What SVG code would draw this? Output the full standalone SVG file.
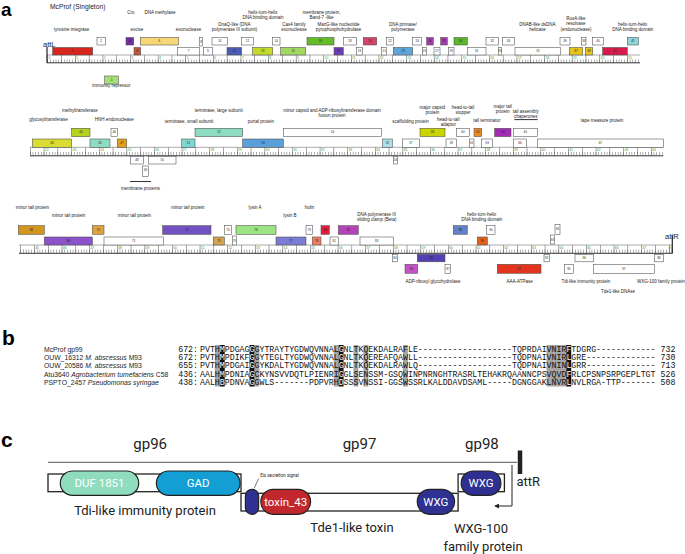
<svg xmlns="http://www.w3.org/2000/svg" width="685" height="554" viewBox="0 0 685 554">
<style>
text{font-family:"Liberation Sans",Arial,sans-serif;fill:#222}
.pl{font-weight:bold;font-size:21px;fill:#000}
.t{font-size:4.5px;text-anchor:middle}
.n{font-size:3px;text-anchor:middle;fill:#222}
.kb{font-size:3.4px;fill:#3a9a3a}
.b rect{stroke:#4d4d4d;stroke-width:0.55}
.w{fill:#fff}
.att{font-size:7.5px}
.seq{font-family:"Liberation Mono","Courier New",monospace;font-size:8.25px;fill:#111}
.k{fill:#fff}
.nm{font-size:6.8px}
.gc{font-family:Roboto,"Liberation Sans",sans-serif;fill:#222}
.pill{stroke:#222;stroke-width:1.2}
.pt{font-family:Roboto,"Liberation Sans",sans-serif;font-size:11.5px;fill:#fff;text-anchor:middle}
</style>
<defs>
<marker id="ah" viewBox="0 0 6 6" refX="5" refY="3" markerWidth="5" markerHeight="5" orient="auto"><path d="M0,0 L6,3 L0,6 Z" fill="#222"/></marker>
</defs>

<!-- panel labels -->
<text class="pl" x="1" y="16" style="font-size:19px">a</text>
<text class="pl" x="2" y="345">b</text>
<text class="pl" x="1" y="447">c</text>

<!-- ===== Panel a: rulers ===== -->
<g id="rulers" stroke="#555" fill="none">
<line x1="47" y1="55" x2="640" y2="55" stroke-width="0.5"/>
<line x1="47.5" y1="61" x2="640" y2="61" stroke-width="3.2" stroke-dasharray="0.45 2.31"/>
<line x1="47.5" y1="58.9" x2="640" y2="58.9" stroke-width="7.6" stroke-dasharray="0.5 13.3"/>
<line x1="47" y1="62.8" x2="640" y2="62.8" stroke-width="1" stroke="#333"/>
<line x1="47" y1="47" x2="47" y2="63" stroke-width="1.2" stroke="#222"/>

<line x1="30" y1="147.3" x2="663.3" y2="147.3" stroke-width="0.5"/>
<line x1="30" y1="153.6" x2="663.3" y2="153.6" stroke-width="3.4" stroke-dasharray="0.45 2.31"/>
<line x1="30" y1="151.5" x2="663.3" y2="151.5" stroke-width="8.4" stroke-dasharray="0.5 13.3"/>
<line x1="30" y1="155.8" x2="663.3" y2="155.8" stroke-width="1" stroke="#333"/>

<line x1="19" y1="245" x2="672.3" y2="245" stroke-width="0.5"/>
<line x1="20.38" y1="251.3" x2="672.3" y2="251.3" stroke-width="3.4" stroke-dasharray="0.45 2.31"/>
<line x1="20.38" y1="249.2" x2="672.3" y2="249.2" stroke-width="8.3" stroke-dasharray="0.5 13.3"/>
<line x1="19" y1="253.3" x2="672.3" y2="253.3" stroke-width="1" stroke="#333"/>
<line x1="672.3" y1="236" x2="672.3" y2="253.5" stroke-width="1.2" stroke="#222"/>
</g>
<g id="kbnums">
<text class="kb" x="48.5" y="58.8">0</text><text class="kb" x="76.1" y="58.8">1</text><text class="kb" x="103.7" y="58.8">2</text><text class="kb" x="131.3" y="58.8">3</text><text class="kb" x="158.9" y="58.8">4</text><text class="kb" x="186.5" y="58.8">5</text><text class="kb" x="214.1" y="58.8">6</text><text class="kb" x="241.7" y="58.8">7</text><text class="kb" x="269.3" y="58.8">8</text><text class="kb" x="296.9" y="58.8">9</text><text class="kb" x="324.5" y="58.8">10</text><text class="kb" x="352.1" y="58.8">11</text><text class="kb" x="379.7" y="58.8">12</text><text class="kb" x="407.3" y="58.8">13</text><text class="kb" x="434.9" y="58.8">14</text><text class="kb" x="462.5" y="58.8">15</text><text class="kb" x="490.1" y="58.8">16</text><text class="kb" x="517.7" y="58.8">17</text><text class="kb" x="545.3" y="58.8">18</text><text class="kb" x="572.9" y="58.8">19</text><text class="kb" x="600.5" y="58.8">20</text><text class="kb" x="628.1" y="58.8">21</text>
<text class="kb" x="44.8" y="151">22</text><text class="kb" x="72.4" y="151">23</text><text class="kb" x="100" y="151">24</text><text class="kb" x="127.6" y="151">25</text><text class="kb" x="155.2" y="151">26</text><text class="kb" x="182.8" y="151">27</text><text class="kb" x="210.4" y="151">28</text><text class="kb" x="238" y="151">29</text><text class="kb" x="265.6" y="151">30</text><text class="kb" x="293.2" y="151">31</text><text class="kb" x="320.8" y="151">32</text><text class="kb" x="348.4" y="151">33</text><text class="kb" x="376" y="151">34</text><text class="kb" x="403.6" y="151">35</text><text class="kb" x="431.2" y="151">36</text><text class="kb" x="458.8" y="151">37</text><text class="kb" x="486.4" y="151">38</text><text class="kb" x="514" y="151">39</text><text class="kb" x="541.6" y="151">40</text><text class="kb" x="569.2" y="151">41</text><text class="kb" x="596.8" y="151">42</text><text class="kb" x="624.4" y="151">43</text><text class="kb" x="652" y="151">44</text>
<text class="kb" x="35.2" y="248.8">45</text><text class="kb" x="62.8" y="248.8">46</text><text class="kb" x="90.4" y="248.8">47</text><text class="kb" x="118" y="248.8">48</text><text class="kb" x="145.6" y="248.8">49</text><text class="kb" x="173.2" y="248.8">50</text><text class="kb" x="200.8" y="248.8">51</text><text class="kb" x="228.4" y="248.8">52</text><text class="kb" x="256" y="248.8">53</text><text class="kb" x="283.6" y="248.8">54</text><text class="kb" x="311.2" y="248.8">55</text><text class="kb" x="338.8" y="248.8">56</text><text class="kb" x="366.4" y="248.8">57</text><text class="kb" x="394" y="248.8">58</text><text class="kb" x="421.6" y="248.8">59</text><text class="kb" x="449.2" y="248.8">60</text><text class="kb" x="476.8" y="248.8">61</text><text class="kb" x="504.4" y="248.8">62</text><text class="kb" x="532" y="248.8">63</text><text class="kb" x="559.6" y="248.8">64</text><text class="kb" x="587.2" y="248.8">65</text><text class="kb" x="614.8" y="248.8">66</text><text class="kb" x="642.4" y="248.8">67</text><text class="kb" x="668.5" y="248.8">68</text>
</g>

<!-- ===== Panel a: labels ===== -->
<g id="labels-a">
<text x="50" y="9" style="font-size:6.7px">McProf (Singleton)</text>
<text class="att" x="43" y="46.5">attL</text>
<text class="att" x="665" y="238.5">attR</text>
<text class="t" x="131" y="14.2">Cro</text>
<text class="t" x="160" y="14.2">DNA methylase</text>
<text class="t" x="71.5" y="30.8">tyrosine integrase</text>
<text class="t" x="137" y="30.8">excise</text>
<text class="t" x="188.5" y="30.8">exonuclease</text>
<text class="t" x="234.5" y="25.5">DnaQ-like (DNA</text>
<text class="t" x="234.5" y="30.8">polymerase III subunit)</text>
<text class="t" x="263" y="14.2">helix-turn-helix</text>
<text class="t" x="263" y="19.2">DNA binding domain</text>
<text class="t" x="294" y="25.5">Cas4 family</text>
<text class="t" x="294" y="30.8">exonuclease</text>
<text class="t" x="321.5" y="14.2">membrane protein,</text>
<text class="t" x="321.5" y="19.2">Band-7 -like</text>
<text class="t" x="338.5" y="25.5">MazG-like nucleotide</text>
<text class="t" x="338.5" y="30.8">pyrophosphohydrolase</text>
<text class="t" x="403" y="25.5">DNA primase/</text>
<text class="t" x="403" y="30.8">polymerase</text>
<text class="t" x="537.5" y="25.5">DNAB-like dsDNA</text>
<text class="t" x="537.5" y="30.8">helicase</text>
<text class="t" x="576" y="19.8">RusA-like</text>
<text class="t" x="576" y="25.3">resolvase</text>
<text class="t" x="576" y="30.8">(endonuclease)</text>
<text class="t" x="632.7" y="25.5">helix-turn-helix</text>
<text class="t" x="632.7" y="30.8">DNA binding domain</text>
<text class="t" x="111.3" y="86.5">immunity repressor</text>

<text class="t" x="48.5" y="120.5">glycosyltransferase</text>
<text class="t" x="80" y="111.8">methyltransferase</text>
<text class="t" x="114.3" y="120.5">HNH endonuclease</text>
<text class="t" x="189" y="122.5">terminase, small subunit</text>
<text class="t" x="218.8" y="111.8">terminase, large subunit</text>
<text class="t" x="261" y="122.5">portal protein</text>
<text class="t" x="332" y="111.8">minor capsid and ADP-ribosyltransferase domain</text>
<text class="t" x="332" y="117.2">fusion protein</text>
<text class="t" x="410.5" y="122.5">scaffolding protein</text>
<text class="t" x="432.3" y="108.5">major capsid</text>
<text class="t" x="432.3" y="113.6">protein</text>
<text class="t" x="448.3" y="120.5">head-to-tail</text>
<text class="t" x="448.3" y="125.8">adaptor</text>
<text class="t" x="463" y="108.5">head-to-tail</text>
<text class="t" x="463" y="113.6">stopper</text>
<text class="t" x="487" y="121.5">tail terminator</text>
<text class="t" x="502.7" y="108.2">major tail</text>
<text class="t" x="502.7" y="113.3">protein</text>
<text class="t" x="525.7" y="112.5">tail assembly</text>
<text class="t" x="525.7" y="117.8">chaperones</text>
<line x1="514.3" y1="119.6" x2="537.7" y2="119.6" stroke="#333" stroke-width="1"/>
<text class="t" x="602" y="121.5">tape measure protein</text>
<line x1="130" y1="181.5" x2="151" y2="181.5" stroke="#333" stroke-width="1"/>
<text class="t" x="140.5" y="189.5">membrane proteins</text>

<text class="t" x="32.5" y="209.2">minor tail protein</text>
<text class="t" x="68.7" y="216.5">minor tail protein</text>
<text class="t" x="134.5" y="216.5">minor tail protein</text>
<text class="t" x="188" y="209.2">minor tail protein</text>
<text class="t" x="255" y="209.2">lysin A</text>
<text class="t" x="290" y="216.5">lysin B</text>
<text class="t" x="309.5" y="209.2">holin</text>
<text class="t" x="376.7" y="215.8">DNA polymerase III</text>
<text class="t" x="376.7" y="221.2">sliding clamp (Beta)</text>
<text class="t" x="481.7" y="215.8">helix-turn-helix</text>
<text class="t" x="481.7" y="221.2">DNA binding domain</text>
<text class="t" x="433" y="282.5">ADP-ribosyl glycohydrolase</text>
<text class="t" x="519.7" y="282.5">AAA-ATPase</text>
<text class="t" x="586" y="282.5">Tdi-like immunity protein</text>
<text class="t" x="661" y="282.5">WXG-100 family protein</text>
<text class="t" x="618" y="293">Tde1-like DNAse</text>
</g>

<!-- ===== Panel a: genes row 1 ===== -->
<g class="b">
<g id="g1"><rect x="52.7" y="47.5" width="40" height="7.5" fill="#d7261e"/><text class="n" x="72.7" y="52.3">1</text></g>
<g id="g2"><rect class="w" x="97" y="37.5" width="8.3" height="7.5"/><text class="n" x="101.2" y="42.3">2</text></g>
<g id="g3"><rect x="134" y="47.5" width="6.7" height="7.5" fill="#c0583c"/><text class="n" x="137.3" y="52.3">3</text></g>
<g id="g4"><rect x="126" y="37.5" width="7.7" height="7.5" fill="#7030a0"/><text class="n" x="129.9" y="42.3">4</text></g>
<g id="g5"><rect x="104.7" y="76" width="13.6" height="8" fill="#a6df76"/><text class="n" x="111.5" y="81">5</text></g>
<g id="g6"><rect x="140.3" y="37.5" width="38" height="7.5" fill="#f6d675"/><text class="n" x="159.3" y="42.3">6</text></g>
<g id="g7"><rect class="w" x="177.7" y="47.5" width="21.6" height="7.5"/><text class="n" x="188.5" y="52.3">7</text></g>
<g id="g8"><rect class="w" x="199.3" y="37.5" width="3.4" height="8.5"/><text class="n" x="201" y="42.8">8</text></g>
<g id="g9"><rect class="w" x="203.3" y="47.5" width="9" height="7.5"/><text class="n" x="207.8" y="52.3">9</text></g>
<g id="g10"><rect class="w" x="212" y="37.5" width="15.7" height="7.5"/><text class="n" x="219.8" y="42.3">10</text></g>
<g id="g11"><rect x="227" y="47.5" width="14.7" height="7.5" fill="#4b5cb4"/><text class="n" x="234.3" y="52.3">11</text></g>
<g id="g12"><rect class="w" x="241.7" y="37.5" width="11.6" height="7.5"/><text class="n" x="247.5" y="42.3">12</text></g>
<g id="g13"><rect x="252.7" y="47.5" width="20" height="7.5" fill="#c3d92b"/><text class="n" x="262.7" y="52.3">13</text></g>
<g id="g14"><rect class="w" x="272.7" y="37.5" width="7.3" height="7.5"/><text class="n" x="276.3" y="42.3">14</text></g>
<g id="g15"><rect x="280.7" y="47.5" width="25" height="7.5" fill="#a3d860"/><text class="n" x="293.2" y="52.3">15</text></g>
<g id="g16"><rect x="307" y="37.5" width="27" height="7.5" fill="#66bb2a"/><text class="n" x="320.5" y="42.3">16</text></g>
<g id="g17"><rect x="334" y="47.5" width="9.3" height="7.5" fill="#6b3fb1"/><text class="n" x="338.6" y="52.3">17</text></g>
<g id="g18"><rect class="w" x="343.3" y="37.5" width="13.4" height="7.5"/><text class="n" x="350" y="42.3">18</text></g>
<g id="g19"><rect class="w" x="356.7" y="47.5" width="5.6" height="7.5"/><text class="n" x="359.5" y="52.3">19</text></g>
<g id="g20"><rect x="363.3" y="37.5" width="13.4" height="7.5" fill="#d2466b"/><text class="n" x="370" y="42.3">20</text></g>
<g id="g21"><rect class="w" x="381.7" y="47.5" width="5" height="7.5"/><text class="n" x="384.2" y="52.3">21</text></g>
<g id="g22"><rect class="w" x="386.7" y="37.5" width="6.6" height="7.5"/><text class="n" x="390" y="42.3">22</text></g>
<g id="g23"><rect x="393.3" y="47.5" width="19.4" height="7.5" fill="#5fa6d6"/><text class="n" x="403" y="52.3">23</text></g>
<g id="g24"><rect class="w" x="412.7" y="37.5" width="9" height="7.5"/><text class="n" x="417.2" y="42.3">24</text></g>
<g id="g25"><rect class="w" x="422.3" y="47.5" width="4.4" height="7.5"/><text class="n" x="424.5" y="52.3">25</text></g>
<g id="g26"><rect x="426.7" y="37.5" width="6.6" height="7.5" fill="#a33db3"/><text class="n" x="430" y="42.3">26</text></g>
<g id="g27"><rect class="w" x="434" y="47.5" width="6" height="7.5"/><text class="n" x="437" y="52.3">27</text></g>
<g id="g28"><rect x="440.7" y="37.5" width="6.6" height="7.5" fill="#a33db3"/><text class="n" x="444" y="42.3">28</text></g>
<g id="g29"><rect class="w" x="448.3" y="47.5" width="5.7" height="7.5"/><text class="n" x="451.2" y="52.3">29</text></g>
<g id="g30"><rect x="454" y="37.5" width="13.3" height="7.5" fill="#5cb82a"/><text class="n" x="460.7" y="42.3">30</text></g>
<g id="g31"><rect class="w" x="467.3" y="47.5" width="18.7" height="7.5"/><text class="n" x="476.7" y="52.3">31</text></g>
<g id="g32"><rect class="w" x="486" y="37.5" width="12.3" height="7.5"/><text class="n" x="492.2" y="42.3">32</text></g>
<g id="g33"><rect class="w" x="498.3" y="47.5" width="3.4" height="7.5"/><text class="n" x="500" y="52.3">33</text></g>
<g id="g34"><rect class="w" x="502.7" y="37.5" width="11.6" height="7.5"/><text class="n" x="508.5" y="42.3">34</text></g>
<g id="g35"><rect class="w" x="515" y="47.5" width="45.7" height="7.5"/><text class="n" x="537.9" y="52.3">35</text></g>
<g id="g36"><rect class="w" x="560" y="37.5" width="10" height="7.5"/><text class="n" x="565" y="42.3">36</text></g>
<g id="g37"><rect x="569.3" y="47.5" width="13.4" height="7.5" fill="#e5c420"/><text class="n" x="576" y="52.3">37</text></g>
<g id="g38"><rect class="w" x="581.7" y="37.5" width="4.3" height="7.5"/><text class="n" x="583.9" y="42.3">38</text></g>
<g id="g39"><rect x="585.3" y="47.5" width="7.4" height="7.5" fill="#e5c420"/><text class="n" x="589" y="52.3">39</text></g>
<g id="g40"><rect class="w" x="592.7" y="37.5" width="10.6" height="7.5"/><text class="n" x="598" y="42.3">40</text></g>
<g id="g41"><rect x="602.7" y="47.5" width="24.6" height="7.5" fill="#d81b4b"/><text class="n" x="615" y="52.3">41</text></g>
<g id="g42"><rect x="627.3" y="37.5" width="11" height="7.5" fill="#8fd5d9"/><text class="n" x="632.8" y="42.3">42</text></g>
</g>

<!-- ===== Panel a: genes row 2 ===== -->
<g class="b">
<g id="g43"><rect x="32.3" y="139" width="39.4" height="8.3" fill="#d8dc33"/><text class="n" x="52" y="144.1">43</text></g>
<g id="g44"><rect x="71.7" y="128.3" width="18.3" height="8.3" fill="#b6d11e"/><text class="n" x="80.9" y="133.4">44</text></g>
<g id="g45"><rect x="90" y="139" width="20" height="8.3" fill="#8fdcc6"/><text class="n" x="100" y="144.1">45</text></g>
<g id="g46"><rect class="w" x="111" y="128.3" width="6.3" height="8.3"/><text class="n" x="114.2" y="133.4">46</text></g>
<g id="g47"><rect x="117.3" y="139" width="9.4" height="8.3" fill="#e3a21c"/><text class="n" x="122" y="144.1">47</text></g>
<g id="g48"><rect class="w" x="130.7" y="156.5" width="12.6" height="7.5"/><text class="n" x="137" y="161.3">48</text></g>
<g id="g49"><rect class="w" x="142.7" y="166" width="5.6" height="10.5"/><text class="n" x="145.5" y="171">49</text></g>
<g id="g50"><rect class="w" x="148.3" y="156.5" width="27.7" height="7.5"/><text class="n" x="162.2" y="161.3">50</text></g>
<g id="g51"><rect x="181.7" y="139" width="13.3" height="8.3" fill="#7fd6d2"/><text class="n" x="188.4" y="144.1">51</text></g>
<g id="g52"><rect x="195" y="128.3" width="47.7" height="8.3" fill="#8edcc1"/><text class="n" x="218.9" y="133.4">52</text></g>
<g id="g53"><rect x="242.7" y="139" width="40.6" height="8.3" fill="#5b9fd9"/><text class="n" x="263" y="144.1">53</text></g>
<g id="g54"><rect class="w" x="283.3" y="128.3" width="98.4" height="8.3"/><text class="n" x="332.5" y="133.4">54</text></g>
<g id="g55"><rect x="382.3" y="139" width="10" height="8.3" fill="#ade0e6"/><text class="n" x="387.3" y="144.1">55</text></g>
<g id="g56"><rect class="w" x="393.3" y="156.5" width="4.4" height="7.5"/><text class="n" x="395.5" y="161.3">56</text></g>
<g id="g57"><rect class="w" x="402.3" y="139" width="17" height="8.3"/><text class="n" x="410.8" y="144.1">57</text></g>
<g id="g58"><rect x="420" y="128.3" width="25" height="8.3" fill="#c9d500"/><text class="n" x="432.5" y="133.4">58</text></g>
<g id="g59"><rect class="w" x="446" y="139" width="10.7" height="8.3"/><text class="n" x="451.3" y="144.1">59</text></g>
<g id="g60"><rect class="w" x="456.7" y="128.3" width="12.6" height="8.3"/><text class="n" x="463" y="133.4">60</text></g>
<g id="g61"><rect class="w" x="469.3" y="139" width="4.7" height="8.3"/><text class="n" x="471.7" y="144.1">61</text></g>
<g id="g62"><rect x="474" y="128.3" width="7.7" height="8.3" fill="#e68a2b"/><text class="n" x="477.9" y="133.4">62</text></g>
<g id="g63"><rect class="w" x="481.7" y="139" width="11" height="8.3"/><text class="n" x="487.2" y="144.1">63</text></g>
<g id="g64"><rect x="494.7" y="128.3" width="16.3" height="8.3" fill="#a52bb5"/><text class="n" x="502.9" y="133.4">64</text></g>
<g id="g65"><rect class="w" x="513.3" y="128.3" width="24.4" height="8.3"/><text class="n" x="525.5" y="133.4">65</text></g>
<g id="g66"><rect class="w" x="513.3" y="139" width="13.4" height="8.3"/><text class="n" x="520" y="144.1">66</text></g>
<g id="g67"><rect class="w" x="537.3" y="139" width="126" height="8.3"/><text class="n" x="600.3" y="144.1">67</text></g>
</g>

<!-- ===== Panel a: genes row 3 ===== -->
<g class="b">
<g id="g68"><rect x="18.3" y="225.7" width="26" height="8.6" fill="#d4951f"/><text class="n" x="31.3" y="231">68</text></g>
<g id="g69"><rect x="44.3" y="237" width="48" height="8" fill="#8b52c9"/><text class="n" x="68.3" y="242">69</text></g>
<g id="g70"><rect x="92.3" y="225.7" width="11.7" height="8.6" fill="#dea23f"/><text class="n" x="98.2" y="231">70</text></g>
<g id="g71"><rect class="w" x="104" y="237" width="59.3" height="8"/><text class="n" x="133.7" y="242">71</text></g>
<g id="g72"><rect x="162.7" y="225.7" width="48.3" height="8.6" fill="#7252c1"/><text class="n" x="186.9" y="231">72</text></g>
<g id="g73"><rect x="213.3" y="237" width="11" height="8" fill="#d9a24e"/><text class="n" x="218.8" y="242">73</text></g>
<g id="g74"><rect class="w" x="224.3" y="225.7" width="7.4" height="8.6"/><text class="n" x="228" y="231">74</text></g>
<g id="g75"><rect class="w" x="232.3" y="236" width="4.4" height="9"/><text class="n" x="234.5" y="241.5">75</text></g>
<g id="g76"><rect x="236" y="225.7" width="40" height="8.6" fill="#9be383"/><text class="n" x="256" y="231">76</text></g>
<g id="g77"><rect x="276" y="237" width="30" height="8" fill="#7b7bd4"/><text class="n" x="291" y="242">77</text></g>
<g id="g78"><rect x="312.3" y="237" width="8.7" height="8" fill="#f07d5e"/><text class="n" x="316.7" y="242">78</text></g>
<g id="g79"><rect class="w" x="306" y="225.7" width="6.3" height="8.6"/><text class="n" x="309.2" y="231">79</text></g>
<g id="g80"><rect x="321" y="225.7" width="8.3" height="8.6" fill="#e01e3c"/><text class="n" x="325.2" y="231">80</text></g>
<g id="g81"><rect class="w" x="330" y="237" width="8.3" height="8"/><text class="n" x="334.2" y="242">81</text></g>
<g id="g82"><rect x="338.3" y="225.7" width="20" height="8.6" fill="#b444ba"/><text class="n" x="348.3" y="231">82</text></g>
<g id="g83"><rect class="w" x="360" y="237" width="33.3" height="8"/><text class="n" x="376.7" y="242">83</text></g>
<g id="g84"><rect class="w" x="392.7" y="254.3" width="4.6" height="7.5"/><text class="n" x="395" y="259">84</text></g>
<g id="g85"><rect x="405" y="264.3" width="12.7" height="9" fill="#c452c9"/><text class="n" x="411.4" y="269.8">85</text></g>
<g id="g86"><rect x="417.3" y="254.3" width="27.7" height="7.5" fill="#5141b2"/><text class="n" x="431.2" y="259">86</text></g>
<g id="g87"><rect class="w" x="445" y="264.3" width="5.7" height="9"/><text class="n" x="447.9" y="269.8">87</text></g>
<g id="g88"><rect x="453.3" y="225.7" width="14" height="8.6" fill="#6381c8"/><text class="n" x="460.3" y="231">88</text></g>
<g id="g89"><rect x="477.3" y="237" width="10" height="8" fill="#e2611d"/><text class="n" x="482.3" y="242">89</text></g>
<g id="g90"><rect class="w" x="486.7" y="225.7" width="8.3" height="8.6"/><text class="n" x="490.9" y="231">90</text></g>
<g id="g91"><rect x="497.3" y="264.3" width="43.7" height="9" fill="#e3341f"/><text class="n" x="519.2" y="269.8">91</text></g>
<g id="g92"><rect class="w" x="544" y="254.3" width="5.3" height="7.5"/><text class="n" x="546.7" y="259">92</text></g>
<g id="g93"><rect class="w" x="550.7" y="235" width="3.6" height="9"/><text class="n" x="552.5" y="240.5">93</text></g>
<g id="g94"><rect class="w" x="555" y="224.3" width="5" height="10"/><text class="n" x="557.5" y="230.3">94</text></g>
<g id="g95"><rect class="w" x="564.3" y="264.3" width="9" height="9"/><text class="n" x="568.8" y="269.8">95</text></g>
<g id="g96"><rect class="w" x="575" y="254.3" width="18.3" height="7.5"/><text class="n" x="584.2" y="259">96</text></g>
<g id="g97"><rect class="w" x="593.3" y="264.3" width="61" height="9"/><text class="n" x="623.8" y="269.8">97</text></g>
<g id="g98"><rect class="w" x="654.3" y="254.3" width="9" height="7.5"/><text class="n" x="658.8" y="259">98</text></g>
</g>

<!-- ===== Panel b: alignment ===== -->
<g id="alignment">
<g fill="#a6a6a6">
<rect x="214.85" y="345" width="4.95" height="41.5"/>
<rect x="254.45" y="345" width="4.95" height="41.5"/>
<rect x="333.65" y="345" width="4.95" height="41.5"/>
<rect x="353.45" y="345" width="4.95" height="41.5"/>
<rect x="363.35" y="345" width="4.95" height="41.5"/>
<rect x="402.95" y="345" width="4.95" height="41.5"/>
<rect x="546.5" y="345" width="19.8" height="41.5"/>
</g>
<g fill="#111">
<rect x="219.8" y="345" width="4.95" height="41.5"/>
<rect x="249.5" y="345" width="4.95" height="41.5"/>
<rect x="338.6" y="345" width="4.95" height="41.5"/>
<rect x="566.3" y="345" width="4.95" height="41.5"/>
</g>
<text class="nm" x="44" y="351.5">McProf gp99</text>
<text class="nm" x="44" y="359.8">OUW_16312 <tspan font-style="italic">M. abscessus</tspan> M93</text>
<text class="nm" x="44" y="368.2">OUW_20586 <tspan font-style="italic">M. abscessus</tspan> M93</text>
<text class="nm" x="44" y="376.5">Atu3640 <tspan font-style="italic">Agrobacterium tumefaciens</tspan> C58</text>
<text class="nm" x="44" y="384.8">PSPTO_2457 <tspan font-style="italic">Pseudomonas syringae</tspan></text>
<text class="seq" x="198" y="351.5" text-anchor="end">672:</text>
<text class="seq" x="198" y="359.8" text-anchor="end">672:</text>
<text class="seq" x="198" y="368.2" text-anchor="end">655:</text>
<text class="seq" x="198" y="376.5" text-anchor="end">436:</text>
<text class="seq" x="198" y="384.8" text-anchor="end">438:</text>
<text class="seq" x="200" y="351.5" xml:space="preserve">PVTH<tspan class="k">M</tspan>PDGAG<tspan class="k">G</tspan>GYTRAYTYGDWQVNNAL<tspan class="k">G</tspan>NLTKQEKDALRAFLE-------------------TQPRDAIVNIR<tspan class="k">F</tspan>TDGRG------------ 732</text>
<text class="seq" x="200" y="359.8" xml:space="preserve">PVTH<tspan class="k">M</tspan>PDIKF<tspan class="k">G</tspan>GYTEGLTYGDWQVNNAL<tspan class="k">G</tspan>NLTKQEREAFQAWLL-------------------TQDPNAIVNIR<tspan class="k">L</tspan>GRE-------------- 730</text>
<text class="seq" x="200" y="368.2" xml:space="preserve">PVTH<tspan class="k">M</tspan>PDGAI<tspan class="k">G</tspan>GYKDALTYGDWQVNNAL<tspan class="k">G</tspan>NLTKQEKDALRAWLQ-------------------TQDPNAIVNIN<tspan class="k">L</tspan>GRR-------------- 713</text>
<text class="seq" x="200" y="376.5" xml:space="preserve">AALH<tspan class="k">M</tspan>PDNIA<tspan class="k">G</tspan>CKYNSVVDQTLPIENRI<tspan class="k">G</tspan>GLSENSSM-GSQWINPNRNGHTRASRLTEHAKRQAANNCPSVQVD<tspan class="k">F</tspan>RLCPSNPSRPGEPLTGT 526</text>
<text class="seq" x="200" y="384.8" xml:space="preserve">AALH<tspan class="k">B</tspan>PDNVA<tspan class="k">G</tspan>GWLS-------PDPVRH<tspan class="k">D</tspan>SSSVNSSI-GGSWSSRLKALDDAVDSAML-----DGNGGAKLNVR<tspan class="k">L</tspan>NVLRGA-TTP------- 508</text>
</g>

<!-- ===== Panel c ===== -->
<g id="panel-c-connectors" stroke="#222" fill="none">
<line x1="48" y1="462.3" x2="517" y2="462.3" stroke-width="1" stroke="#555"/>
<line x1="520" y1="450.5" x2="520" y2="474" stroke-width="4.5"/>
<polyline points="512,465 512,506 495,506" stroke-width="1" marker-end="url(#ah)"/>
<line x1="254.2" y1="488.3" x2="258.6" y2="478.5" stroke-width="0.6"/>
</g>
<g id="gp96">
<rect x="48" y="474" width="193" height="17.7" fill="#fff" stroke="#222" stroke-width="1.3"/>
<rect class="pill" x="60.3" y="471" width="78.4" height="24.3" rx="12.1" fill="#8fdcbf"/>
<text class="pt" x="99.5" y="487.3">DUF 1851</text>
<rect class="pill" x="156.4" y="471" width="83.6" height="24.3" rx="12.1" fill="#139fd3"/>
<text class="pt" x="198.2" y="487.3">GAD</text>
<text class="gc" x="150.2" y="449" text-anchor="middle" style="font-size:15px">gp96</text>
<text class="gc" x="145" y="515" text-anchor="middle" style="font-size:13px">Tdi-like immunity protein</text>
</g>
<g id="gp97">
<rect x="241" y="493.3" width="217.1" height="17.7" fill="#fff" stroke="#222" stroke-width="1.3"/>
<rect class="pill" x="245.4" y="489.3" width="13.2" height="25" rx="6.6" fill="#2e3192"/>
<rect class="pill" x="260.8" y="489.3" width="49.8" height="25" rx="12.5" fill="#c1272d"/>
<text class="pt" x="285.7" y="505.8">toxin_43</text>
<rect class="pill" x="417.2" y="489.3" width="37.4" height="25" rx="12.5" fill="#2e3192"/>
<text class="pt" x="435.9" y="505.8">WXG</text>
<text class="gc" x="279.5" y="477" text-anchor="middle" style="font-size:4.5px">Eis secretion signal</text>
<text class="gc" x="359.5" y="449" text-anchor="middle" style="font-size:15px">gp97</text>
<text class="gc" x="352" y="531.7" text-anchor="middle" style="font-size:13px">Tde1-like toxin</text>
</g>
<g id="gp98">
<rect x="458.1" y="474" width="46.3" height="17.7" fill="#fff" stroke="#222" stroke-width="1.3"/>
<rect class="pill" x="461.2" y="471" width="39.7" height="24.3" rx="12.1" fill="#2e3192"/>
<text class="pt" x="481" y="487.3">WXG</text>
<text class="gc" x="481.9" y="449" text-anchor="middle" style="font-size:15px">gp98</text>
<text class="gc" x="481" y="532.7" text-anchor="middle" style="font-size:13px">WXG-100</text>
<text class="gc" x="483" y="550.5" text-anchor="middle" style="font-size:13px">family protein</text>
</g>
<text class="gc" x="516.5" y="486" style="font-size:13px">attR</text>
</svg>
